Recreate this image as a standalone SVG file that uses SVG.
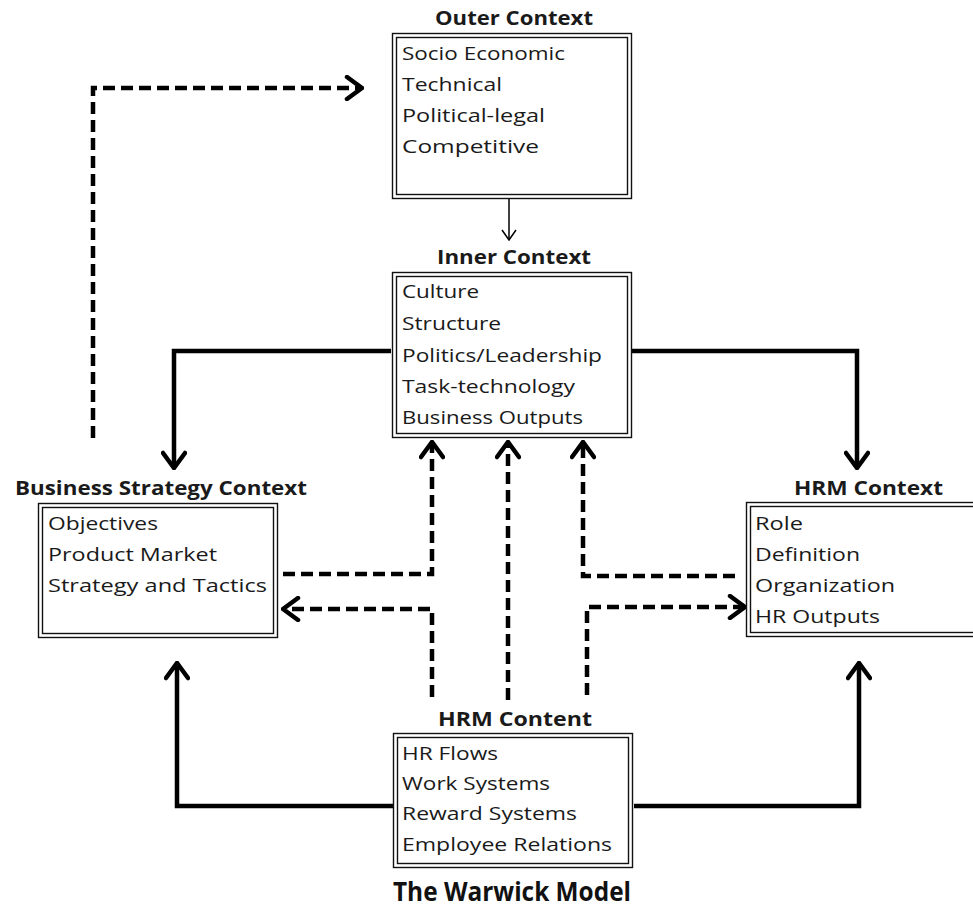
<svg xmlns="http://www.w3.org/2000/svg" width="973" height="915" viewBox="0 0 973 915">
<style>
.box{fill:#fff;stroke:#111;stroke-width:1.4}
.title{font-family:"Open Sans","Liberation Sans",Arial,sans-serif;font-weight:bold;font-size:19px;fill:#1a1a1a}
.item{font-family:"Open Sans","Liberation Sans",Arial,sans-serif;font-size:18px;fill:#1a1a1a}
.main{font-family:"Open Sans","Liberation Sans",Arial,sans-serif;font-weight:bold;font-size:27px;fill:#111}
.solid{fill:none;stroke:#000;stroke-width:4.5;stroke-linejoin:miter}
.dash{fill:none;stroke:#000;stroke-width:4.5;stroke-dasharray:12 6}
.thin{fill:none;stroke:#000;stroke-width:1.5}
</style>
<defs>
<marker id="ah" viewBox="0 0 20 26" refX="18" refY="13" markerWidth="20" markerHeight="26" markerUnits="userSpaceOnUse" orient="auto">
<path d="M3,2 L18,13 L3,24" fill="none" stroke="#000" stroke-width="4.5" stroke-linecap="round" stroke-linejoin="miter"/>
</marker>
<marker id="ahThin" viewBox="0 0 12 16" refX="11" refY="8" markerWidth="12" markerHeight="16" markerUnits="userSpaceOnUse" orient="auto">
<path d="M1,1 L11,8 L1,15" fill="none" stroke="#000" stroke-width="1.5"/>
</marker>
</defs>
<rect width="973" height="915" fill="#fff"/>

<g id="connectors">
<path class="thin" d="M509,199 V240" marker-end="url(#ahThin)"/>
<path class="solid" d="M391,351 H174 V468" marker-end="url(#ah)"/>
<path class="solid" d="M632,351 H857 V468" marker-end="url(#ah)"/>
<path class="solid" d="M393,806 H177 V663" marker-end="url(#ah)"/>
<path class="solid" d="M634,806 H859 V663" marker-end="url(#ah)"/>
<path class="dash" d="M93,438 V88 H362" marker-end="url(#ah)"/>
<path class="dash" d="M283,574 H432 V442" marker-end="url(#ah)"/>
<path class="dash" d="M432,697 V609 H283" marker-end="url(#ah)"/>
<path class="dash" d="M508,700 V442" marker-end="url(#ah)"/>
<path class="dash" d="M735,576 H583 V442" marker-end="url(#ah)"/>
<path class="dash" d="M587,695 V607 H745" marker-end="url(#ah)"/>
</g>

<g id="outer">
<text class="title" x="435" y="25" textLength="158" lengthAdjust="spacingAndGlyphs">Outer Context</text>
<rect class="box" x="392.5" y="33.5" width="239" height="165"/>
<rect class="box" x="396.5" y="37.5" width="231" height="157"/>
<text class="item" x="402" y="60" textLength="163" lengthAdjust="spacingAndGlyphs">Socio Economic</text>
<text class="item" x="402" y="91" textLength="100" lengthAdjust="spacingAndGlyphs">Technical</text>
<text class="item" x="402" y="122" textLength="143" lengthAdjust="spacingAndGlyphs">Political-legal</text>
<text class="item" x="402" y="153" textLength="137" lengthAdjust="spacingAndGlyphs">Competitive</text>
</g>

<g id="inner">
<text class="title" x="437" y="264" textLength="154" lengthAdjust="spacingAndGlyphs">Inner Context</text>
<rect class="box" x="392.5" y="272.5" width="239" height="165"/>
<rect class="box" x="396.5" y="276.5" width="231" height="157"/>
<text class="item" x="402" y="298" textLength="77" lengthAdjust="spacingAndGlyphs">Culture</text>
<text class="item" x="402" y="330" textLength="99" lengthAdjust="spacingAndGlyphs">Structure</text>
<text class="item" x="402" y="362" textLength="200" lengthAdjust="spacingAndGlyphs">Politics/Leadership</text>
<text class="item" x="402" y="393" textLength="173" lengthAdjust="spacingAndGlyphs">Task-technology</text>
<text class="item" x="402" y="424" textLength="181" lengthAdjust="spacingAndGlyphs">Business Outputs</text>
</g>

<g id="business-strategy">
<text class="title" x="15" y="495" textLength="292" lengthAdjust="spacingAndGlyphs">Business Strategy Context</text>
<rect class="box" x="38.5" y="503.5" width="239" height="134"/>
<rect class="box" x="42.5" y="507.5" width="231" height="126"/>
<text class="item" x="48" y="530" textLength="110" lengthAdjust="spacingAndGlyphs">Objectives</text>
<text class="item" x="48" y="561" textLength="169" lengthAdjust="spacingAndGlyphs">Product Market</text>
<text class="item" x="48" y="592" textLength="219" lengthAdjust="spacingAndGlyphs">Strategy and Tactics</text>
</g>

<g id="hrm-context">
<text class="title" x="794" y="495" textLength="149" lengthAdjust="spacingAndGlyphs">HRM Context</text>
<rect class="box" x="746.5" y="502.5" width="260" height="134"/>
<rect class="box" x="750.5" y="506.5" width="252" height="126"/>
<text class="item" x="755" y="530" textLength="48" lengthAdjust="spacingAndGlyphs">Role</text>
<text class="item" x="755" y="561" textLength="105" lengthAdjust="spacingAndGlyphs">Definition</text>
<text class="item" x="755" y="592" textLength="140" lengthAdjust="spacingAndGlyphs">Organization</text>
<text class="item" x="755" y="623" textLength="125" lengthAdjust="spacingAndGlyphs">HR Outputs</text>
</g>

<g id="hrm-content">
<text class="title" x="438" y="726" textLength="154" lengthAdjust="spacingAndGlyphs">HRM Content</text>
<rect class="box" x="393.5" y="733.5" width="239" height="134"/>
<rect class="box" x="397.5" y="737.5" width="231" height="126"/>
<text class="item" x="402" y="760" textLength="96" lengthAdjust="spacingAndGlyphs">HR Flows</text>
<text class="item" x="402" y="790" textLength="148" lengthAdjust="spacingAndGlyphs">Work Systems</text>
<text class="item" x="402" y="820" textLength="175" lengthAdjust="spacingAndGlyphs">Reward Systems</text>
<text class="item" x="402" y="851" textLength="210" lengthAdjust="spacingAndGlyphs">Employee Relations</text>
</g>

<text class="main" x="393" y="901" textLength="238" lengthAdjust="spacingAndGlyphs">The Warwick Model</text>
</svg>
